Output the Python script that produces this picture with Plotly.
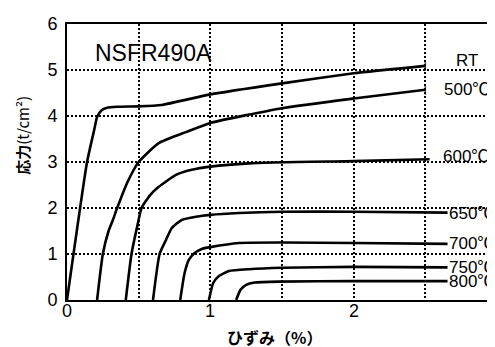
import plotly.graph_objects as go

# ---- data (strain %, stress t/cm2) ----
rt_x = [0, 0.14, 0.19, 0.21, 0.24, 0.28, 0.35, 0.5, 0.66, 1.0, 1.5, 2.0, 2.5]
rt_y = [0, 3.0, 3.7, 3.98, 4.12, 4.18, 4.2, 4.21, 4.24, 4.47, 4.71, 4.93, 5.09]

t500_x = [0.21, 0.25, 0.29, 0.32, 0.35, 0.42, 0.5, 0.64, 0.83, 1.0, 1.5, 2.0, 2.5]
t500_y = [0, 1.0, 1.5, 1.74, 2.0, 2.55, 3.0, 3.41, 3.65, 3.85, 4.17, 4.38, 4.57]

t600_x = [0.41, 0.45, 0.49, 0.52, 0.58, 0.64, 0.76, 0.87, 1.0, 1.27, 2.0, 2.53]
t600_y = [0, 1.0, 1.6, 2.0, 2.28, 2.46, 2.72, 2.83, 2.9, 2.97, 3.02, 3.06]

t650_x = [0.60, 0.646, 0.69, 0.73, 0.80, 0.90, 1.0, 1.2, 1.5, 2.0, 2.655]
t650_y = [0, 1.0, 1.3, 1.56, 1.74, 1.81, 1.85, 1.89, 1.92, 1.92, 1.9]

t700_x = [0.79, 0.82, 0.85, 0.89, 0.94, 1.0, 1.2, 1.5, 2.0, 2.655]
t700_y = [0, 0.58, 0.87, 1.02, 1.11, 1.15, 1.24, 1.25, 1.24, 1.22]

t750_x = [0.99, 1.02, 1.06, 1.13, 1.27, 1.5, 2.0, 2.655]
t750_y = [0, 0.37, 0.52, 0.63, 0.67, 0.70, 0.72, 0.71]

t800_x = [1.18, 1.21, 1.25, 1.31, 1.48, 2.0, 2.655]
t800_y = [0, 0.22, 0.33, 0.38, 0.40, 0.41, 0.41]

series = [
    ("RT", rt_x, rt_y),
    ("500℃", t500_x, t500_y),
    ("600℃", t600_x, t600_y),
    ("650℃", t650_x, t650_y),
    ("700℃", t700_x, t700_y),
    ("750℃", t750_x, t750_y),
    ("800℃", t800_x, t800_y),
]

# label positions (x, y, anchor)
label_pos = {
    "RT": (2.79, 5.2, "center"),
    "500℃": (2.79, 4.57, "center"),
    "600℃": (2.78, 3.12, "center"),
    "650℃": (2.655, 1.89, "left"),
    "700℃": (2.655, 1.22, "left"),
    "750℃": (2.655, 0.71, "left"),
    "800℃": (2.655, 0.41, "left"),
}

X_MAX = 2.986
x_gridvals = [0, 0.5, 1, 1.5, 2, 2.5]
x_labelvals = [0, 1, 2, 3]
x_labeltext = ["0", "1", "2", "3"]
y_tickvals = [0, 1, 2, 3, 4, 5, 6]
y_ticktext = ["0", "1", "2", "3", "4", "5", "6"]

FONT = "Liberation Sans, Noto Sans CJK JP, sans-serif"
JP = "Noto Sans CJK JP, sans-serif"

fig = go.Figure()
for name, xs, ys in series:
    end_marker = name in ("RT", "500℃")
    fig.add_trace(go.Scatter(
        x=xs, y=ys, mode="lines+markers" if end_marker else "lines",
        line=dict(color="black", width=2.6, shape="spline", smoothing=0.5),
        marker=dict(symbol="line-ns-open", size=[0] * (len(xs) - 1) + [7],
                    line=dict(color="black", width=1.5)) if end_marker else None,
        showlegend=False, hoverinfo="skip",
    ))

for name, (lx, ly, anc) in label_pos.items():
    fig.add_annotation(x=lx, y=ly, text=name, showarrow=False,
                       xanchor=anc, yanchor="middle",
                       font=dict(family=FONT, size=17, color="black"),
                       borderpad=0)

fig.add_annotation(x=0.606, y=5.36, text="NSFR490A", showarrow=False,
                   font=dict(family=FONT, size=23, color="black"),
                   xanchor="center", yanchor="middle")

# x tick labels (the "3" sits at the cut-off right edge), placed on the paper scale
for v, t in zip(x_labelvals, x_labeltext):
    fig.add_annotation(x=v / X_MAX, xref="paper", y=0, yref="paper", yshift=-11,
                       text=t, showarrow=False, xanchor="center", yanchor="middle",
                       font=dict(family=FONT, size=18, color="black"))

# axis titles
fig.add_annotation(xref="paper", yref="paper", x=-0.103, y=0.598,
                   text="<b>応力</b>(t/cm²)", textangle=-90, showarrow=False,
                   xanchor="center", yanchor="middle",
                   font=dict(family=JP, size=15, color="black"))
fig.add_annotation(xref="paper", yref="paper", x=0.484, y=-0.134,
                   text="<b>ひずみ（%）</b>", showarrow=False,
                   xanchor="center", yanchor="middle",
                   font=dict(family=JP, size=16, color="black"))

# page body has an 8px default margin, so the figure is sized to fit the window
fig.update_layout(
    width=487, height=339,
    margin=dict(l=59, r=0, t=16, b=47),
    paper_bgcolor="white", plot_bgcolor="white",
    xaxis=dict(range=[0, X_MAX], tickvals=x_gridvals, showticklabels=False,
               showgrid=True, gridcolor="black", gridwidth=1.5, griddash="2px,2px",
               showline=True, linecolor="black", linewidth=2, mirror=True,
               zeroline=False, ticks=""),
    yaxis=dict(range=[0, 6], tickvals=y_tickvals, ticktext=y_ticktext,
               showgrid=True, gridcolor="black", gridwidth=1.5, griddash="2px,2px",
               showline=True, linecolor="black", linewidth=2,
               zeroline=False, ticks="", ticklabelstandoff=4,
               tickfont=dict(family=FONT, size=18, color="black")),
)

fig.write_html("out.html")
